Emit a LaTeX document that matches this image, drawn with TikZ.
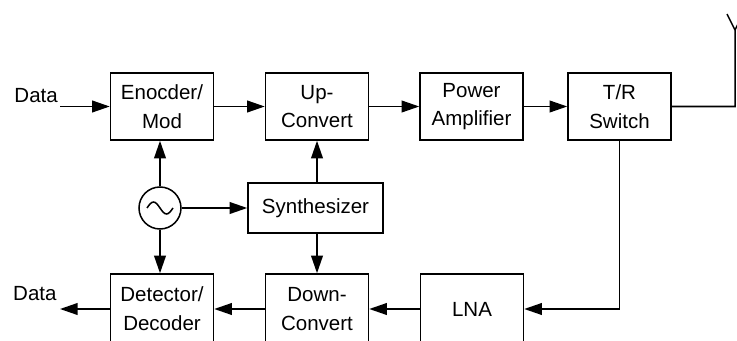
\documentclass[tikz,border=0pt]{standalone}
\usepackage{fontspec}
\setmainfont{Liberation Sans}
\usepackage{tikz}
\usetikzlibrary{shapes,arrows,positioning,calc,arrows.meta}

\begin{document}
\begin{tikzpicture}[x=0.03cm, y=-0.03cm,
    block/.style={draw, line width=1.3pt, minimum width=3.09cm, minimum height=2.01cm,
        align=center, font=\fontsize{17.5}{24.5}\selectfont},
    lowblock/.style={block, minimum height=2.1cm},
    wire/.style={line width=1.3pt},
    arr/.style={wire, -{Triangle[length=15pt,width=10pt]}},
    lbl/.style={font=\fontsize{17.5}{21}\selectfont, inner sep=0pt}]
    \useasboundingbox (0,0) rectangle (737,341);
    \clip (0,0) rectangle (737,341);

    % Transmit chain
    \node[block] (enc) at (162,106.5) {Enocder/\\Mod};
    \node[block] (up) at (317,106.5) {Up-\\Convert};
    \node[block] (pa) at (471.5,106.5) {Power\\Amplifier};
    \node[block] (tr) at (619.5,106.5) {T/R\\Switch};

    % Receive chain
    \node[lowblock] (det) at (162,309) {Detector/\\Decoder};
    \node[lowblock] (dc) at (317,309) {Down-\\Convert};
    \node[lowblock] (lna) at (472,309) {LNA};

    % Oscillator and synthesizer
    \node[draw, circle, line width=1.3pt, minimum size=1.26cm, inner sep=0pt] (osc) at (160,208) {};
    \draw[wire] ($(osc.center)+(-13,0)$) sin ++(6.5,-6) cos ++(6.5,6) sin ++(6.5,6) cos ++(6.5,-6);
    \node[block, minimum width=4.05cm, minimum height=1.5cm] (syn) at (315.5,208) {Synthesizer};

    % Data in / out
    \coordinate (din) at (60,106.5);
    \node[lbl, anchor=base east] (datain) at (58,103) {Data};
    \coordinate (dout) at (60,309);
    \node[lbl, anchor=base west] (dataout) at (13,300) {Data};

    % Antenna
    \coordinate (ant) at (735,106.5);
    \coordinate (anttop) at (735,30);

    % Forward path
    \draw[arr] (din) -- (enc);
    \draw[arr] (enc) -- (up);
    \draw[arr] (up) -- (pa);
    \draw[arr] (pa) -- (tr);
    \draw[wire] (tr) -- (ant) -- (anttop) -- ++(-8,-16);
    \draw[wire] (anttop) -- ++(8,-16);

    % Return path
    \draw[arr] (tr.south) |- (lna.east);
    \draw[arr] (lna) -- (dc);
    \draw[arr] (dc) -- (det);
    \draw[arr] (det) -- (dout);

    % LO distribution
    \draw[arr] (osc) -- (osc |- enc.south);
    \draw[arr] (osc) -- (osc |- det.north);
    \draw[arr] (osc) -- (syn);
    \draw[arr] (syn.north -| up) -- (up);
    \draw[arr] (syn.south -| dc) -- (dc);
\end{tikzpicture}
\end{document}
